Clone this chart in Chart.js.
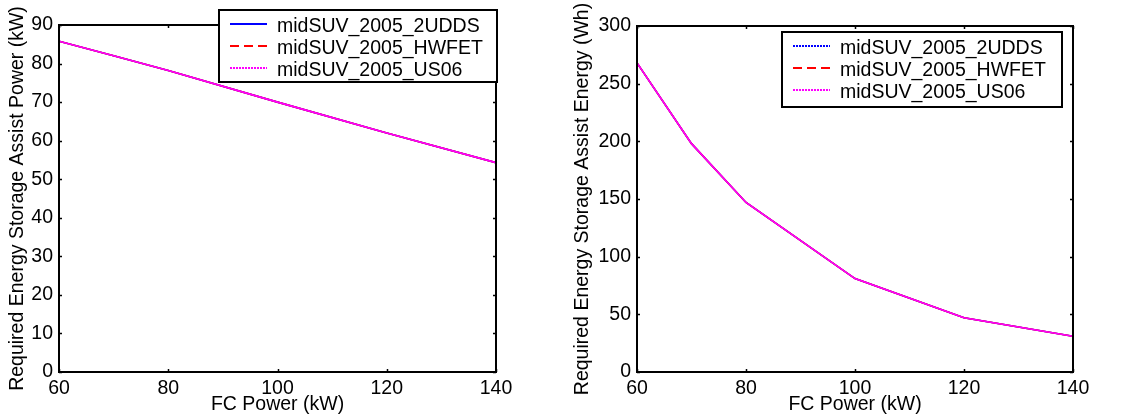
<!DOCTYPE html>
<html>
<head>
<meta charset="utf-8">
<script src="https://cdn.jsdelivr.net/npm/chart.js@4"></script>
<style>
  html, body { margin: 0; padding: 0; background: #fff; }
  .wrap { display: flex; width: 1130px; height: 419px; }
  .box { position: relative; width: 565px; height: 419px; }
</style>
</head>
<body>
<div class="wrap">
  <div class="box"><canvas id="powerChart"></canvas></div>
  <div class="box"><canvas id="energyChart"></canvas></div>
</div>
<script>
// FC power sizes (x axis)
const fcPower = [60, 70, 80, 100, 120, 140];
const cycleNames = ['midSUV_2005_2UDDS', 'midSUV_2005_HWFET', 'midSUV_2005_US06'];

// required assist power (kW) - curves overlap, only US06 visible
const power2UDDS = [85.8, 82.0, 78.2, 70.0, 62.0, 54.3];
const powerHWFET = [85.8, 82.0, 78.2, 70.0, 62.0, 54.3];
const powerUS06  = [85.8, 82.0, 78.2, 70.0, 62.0, 54.3];

// required assist energy (Wh)
const energy2UDDS = [268, 198, 147, 81, 47, 31];
const energyHWFET = [268, 198, 147, 81, 47, 31];
const energyUS06  = [268, 198, 147, 81, 47, 31];

const xTicks = [60, 80, 100, 120, 140];
const powerTicks = [0, 10, 20, 30, 40, 50, 60, 70, 80, 90];
const energyTicks = [0, 50, 100, 150, 200, 250, 300];

const FONT = { family: '"Liberation Sans", Arial, sans-serif', size: 19.5 };
Chart.defaults.font.family = FONT.family;
Chart.defaults.color = '#000';

// black box + small inside ticks on all four sides, MATLAB style
const boxPlugin = {
  id: 'box',
  afterDatasetsDraw(chart) {
    const { ctx, chartArea: a, scales } = chart;
    ctx.save();
    ctx.strokeStyle = '#000';
    ctx.lineWidth = 1.5;
    const len = 3;
    scales.x.ticks.forEach(t => {
      const px = Math.round(scales.x.getPixelForValue(t.value)) + 0.5;
      ctx.beginPath();
      ctx.moveTo(px, a.bottom); ctx.lineTo(px, a.bottom - len);
      ctx.moveTo(px, a.top); ctx.lineTo(px, a.top + len);
      ctx.stroke();
    });
    scales.y.ticks.forEach(t => {
      const py = Math.round(scales.y.getPixelForValue(t.value)) + 0.5;
      ctx.beginPath();
      ctx.moveTo(a.left, py); ctx.lineTo(a.left + len, py);
      ctx.moveTo(a.right, py); ctx.lineTo(a.right - len, py);
      ctx.stroke();
    });
    ctx.lineWidth = 2;
    ctx.strokeRect(a.left, a.top, a.right - a.left, a.bottom - a.top);
    ctx.restore();
  }
};

// boxed legend drawn at a fixed spot in the canvas
const boxLegend = {
  id: 'boxLegend',
  afterDraw(chart, args, opts) {
    const { ctx } = chart;
    const b = opts.box;
    ctx.save();
    ctx.fillStyle = '#fff';
    ctx.fillRect(b.x, b.y, b.w, b.h);
    ctx.strokeStyle = '#000';
    ctx.lineWidth = 2;
    ctx.strokeRect(b.x, b.y, b.w, b.h);
    ctx.font = FONT.size + 'px ' + FONT.family;
    ctx.textBaseline = 'middle';
    ctx.fillStyle = '#000';
    chart.data.datasets.forEach((ds, i) => {
      const y = b.y + opts.firstRow + i * opts.rowGap;
      ctx.beginPath();
      ctx.strokeStyle = ds.borderColor;
      ctx.lineWidth = 2;
      ctx.setLineDash(opts.dashes[i]);
      ctx.moveTo(b.x + 11, y - 3);
      ctx.lineTo(b.x + 48, y - 3);
      ctx.stroke();
      ctx.setLineDash([]);
      ctx.fillText(ds.label, b.x + 58, y);
    });
    ctx.restore();
  }
};

function makeChart(id, series, yTicks, yMax, yTitle, yWidth, pad, legendBox, firstDash) {
  const colors = ['#0000ff', '#ff0000', '#ff00ff'];
  new Chart(document.getElementById(id), {
    type: 'line',
    data: {
      labels: fcPower,
      datasets: series.map((vals, i) => ({
        label: cycleNames[i],
        data: fcPower.map((x, j) => ({ x: x, y: vals[j] })),
        borderColor: colors[i],
        borderWidth: 1.6,
        pointRadius: 0,
        fill: false,
        tension: 0,
        order: 2 - i
      }))
    },
    options: {
      responsive: true,
      maintainAspectRatio: false,
      animation: false,
      events: [],
      layout: { padding: pad },
      plugins: {
        legend: { display: false },
        tooltip: { enabled: false },
        boxLegend: { box: legendBox, firstRow: 17, rowGap: 22, dashes: [firstDash, [9, 5], [2, 1]] }
      },
      scales: {
        x: {
          type: 'linear',
          min: 60, max: 140,
          grid: { display: false, drawTicks: false },
          border: { display: false },
          afterBuildTicks: s => { s.ticks = xTicks.map(v => ({ value: v })); },
          afterFit: s => { s.height = 47; },
          ticks: { font: FONT, padding: 5, maxRotation: 0, color: '#000' },
          title: { display: true, text: 'FC Power (kW)', font: FONT, padding: { top: 0, bottom: 3 }, color: '#000' }
        },
        y: {
          type: 'linear',
          min: 0, max: yMax,
          grid: { display: false, drawTicks: false },
          border: { display: false },
          afterBuildTicks: s => { s.ticks = yTicks.map(v => ({ value: v })); },
          afterFit: s => { s.width = yWidth; },
          ticks: { font: FONT, padding: 6, color: '#000' },
          title: { display: true, text: yTitle, font: FONT, padding: { top: 6, bottom: 0 }, color: '#000' }
        }
      }
    },
    plugins: [boxPlugin, boxLegend]
  });
}

makeChart('powerChart', [power2UDDS, powerHWFET, powerUS06], powerTicks, 90,
  'Required Energy Storage Assist Power (kW)', 59,
  { left: 0, right: 69, top: 25, bottom: 0 },
  { x: 219, y: 10, w: 278, h: 72 }, []);

makeChart('energyChart', [energy2UDDS, energyHWFET, energyUS06], energyTicks, 300,
  'Required Energy Storage Assist Energy (Wh)', 72,
  { left: 0, right: 57, top: 26, bottom: 0 },
  { x: 217, y: 32, w: 280, h: 75 }, [2, 1]);
</script>
</body>
</html>
